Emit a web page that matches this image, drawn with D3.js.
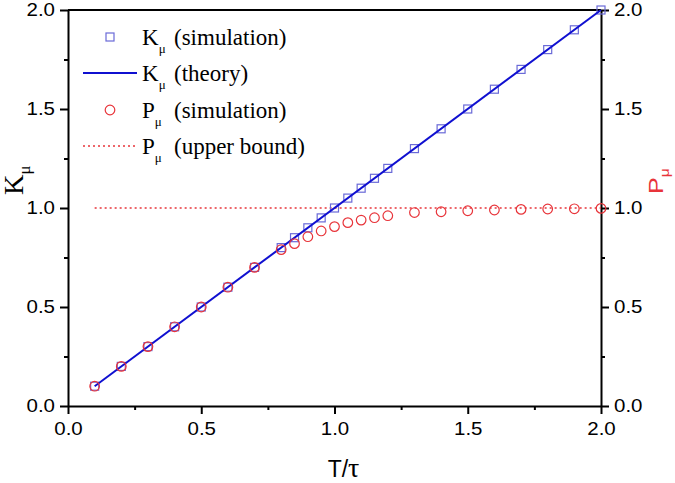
<!DOCTYPE html>
<html><head><meta charset="utf-8">
<script src="https://cdn.jsdelivr.net/npm/d3@7/dist/d3.min.js"></script>
<style>body{margin:0;background:#fff}svg{display:block}</style>
</head><body><svg id="c" width="675" height="483"></svg>
<script>
const kSimT = [0.1,0.2,0.3,0.4,0.5,0.6,0.7,0.8,0.85,0.9,0.95,1.0,1.05,1.1,1.15,1.2,1.3,1.4,1.5,1.6,1.7,1.8,1.9,2.0];
const kSimV = [0.1,0.2,0.3,0.4,0.5,0.6,0.7,0.8,0.85,0.9,0.95,1.0,1.05,1.1,1.15,1.2,1.3,1.4,1.5,1.6,1.7,1.8,1.9,2.0];
const kTheoryT = [0.1,2.0];
const kTheoryV = [0.1,2.0];
const pSimT = [0.1,0.2,0.3,0.4,0.5,0.6,0.7,0.8,0.85,0.9,0.95,1.0,1.05,1.1,1.15,1.2,1.3,1.4,1.5,1.6,1.7,1.8,1.9,2.0];
const pSimV = [0.1,0.2,0.3,0.4,0.5,0.6,0.7,0.79,0.82,0.855,0.884,0.906,0.926,0.939,0.951,0.961,0.977,0.981,0.986,0.99,0.993,0.995,0.996,0.998];
const pBoundT = [0.1,2.0];
const pBoundV = [1.0,1.0];
const xTicks = [0,0.5,1.0,1.5,2.0];
const yTicks = [0,0.5,1.0,1.5,2.0];
const minorTicks = [0.25,0.75,1.25,1.75];

const svg = d3.select("#c");
const L=68,R=601,T=10,B=406;
const x = d3.scaleLinear().domain([0,2]).range([L,R]);
const yL = d3.scaleLinear().domain([0,2]).range([B,T]);
const yR = d3.scaleLinear().domain([0,2]).range([B,T]);
const fmt = d3.format(".1f");
const tickFont = "Liberation Sans, Arial, sans-serif";
const serif = "Liberation Serif, Times New Roman, serif";

function stretch(sel, f){
  sel.each(function(){
    const w = this.getComputedTextLength();
    d3.select(this).attr("textLength", w*f).attr("lengthAdjust","spacingAndGlyphs");
  });
}
function styleAxis(g){
  g.selectAll("path").attr("stroke","#000").attr("stroke-width",2);
  g.selectAll("line").attr("stroke","#000").attr("stroke-width",2);
  g.selectAll("text").attr("font-family",tickFont).attr("font-size",17.5).attr("fill","#000");
  stretch(g.selectAll("text"), 1.17);
}
// minor ticks
svg.append("g").attr("transform",`translate(0,${B})`).call(d3.axisBottom(x).tickValues(minorTicks).tickSize(4).tickFormat("")).call(styleAxis).select("path").remove();
svg.append("g").attr("transform",`translate(${L},0)`).call(d3.axisLeft(yL).tickValues(minorTicks).tickSize(4).tickFormat("")).call(styleAxis).select("path").remove();
svg.append("g").attr("transform",`translate(${R},0)`).call(d3.axisRight(yR).tickValues(minorTicks).tickSize(4).tickFormat("")).call(styleAxis).select("path").remove();
// top line
svg.append("line").attr("x1",L).attr("x2",R).attr("y1",T).attr("y2",T).attr("stroke","#000").attr("stroke-width",2);
// major
svg.append("g").attr("transform",`translate(0,${B})`).call(d3.axisBottom(x).tickValues(xTicks).tickSize(8).tickSizeOuter(0).tickPadding(9).tickFormat(fmt)).call(styleAxis);
svg.append("g").attr("transform",`translate(${L},0)`).call(d3.axisLeft(yL).tickValues(yTicks).tickSize(8).tickSizeOuter(0).tickPadding(5).tickFormat(fmt)).call(styleAxis);
svg.append("g").attr("transform",`translate(${R},0)`).call(d3.axisRight(yR).tickValues(yTicks).tickSize(8).tickSizeOuter(0).tickPadding(5).tickFormat(fmt)).call(styleAxis);

const sqCol = "#6a6ad8", lineCol = "#1010d0", red = "#e8343a";
// dotted bound
svg.append("path").datum(pBoundT.map((t,i)=>[t,pBoundV[i]]))
  .attr("d",d3.line().x(d=>x(d[0])).y(d=>yR(d[1])))
  .attr("fill","none").attr("stroke",red).attr("stroke-width",1.5).attr("stroke-dasharray","2,3");
// squares
svg.append("g").selectAll("rect").data(kSimT.map((t,i)=>[t,kSimV[i]])).join("rect")
  .attr("x",d=>x(d[0])-4).attr("y",d=>yL(d[1])-4).attr("width",8).attr("height",8)
  .attr("fill","none").attr("stroke",sqCol).attr("stroke-width",1.2);
// theory line
svg.append("path").datum(kTheoryT.map((t,i)=>[t,kTheoryV[i]]))
  .attr("d",d3.line().x(d=>x(d[0])).y(d=>yL(d[1])))
  .attr("fill","none").attr("stroke",lineCol).attr("stroke-width",2);
// circles
svg.append("g").selectAll("circle").data(pSimT.map((t,i)=>[t,pSimV[i]])).join("circle")
  .attr("cx",d=>x(d[0])).attr("cy",d=>yR(d[1])).attr("r",4.8)
  .attr("fill","none").attr("stroke",red).attr("stroke-width",1.2);

// legend
const leg = svg.append("g");
const rows = [
  {y:37, sym:"sq", main:"K", rest:"(simulation)"},
  {y:73, sym:"line", main:"K", rest:"(theory)"},
  {y:110, sym:"circ", main:"P", rest:"(simulation)"},
  {y:146, sym:"dot", main:"P", rest:"(upper bound)"}
];
rows.forEach(r=>{
  if(r.sym==="sq") leg.append("rect").attr("x",106).attr("y",r.y-4).attr("width",8).attr("height",8).attr("fill","none").attr("stroke",sqCol).attr("stroke-width",1.2);
  if(r.sym==="line") leg.append("line").attr("x1",83).attr("x2",137).attr("y1",r.y).attr("y2",r.y).attr("stroke",lineCol).attr("stroke-width",2);
  if(r.sym==="circ") leg.append("circle").attr("cx",110).attr("cy",r.y).attr("r",4.8).attr("fill","none").attr("stroke",red).attr("stroke-width",1.2);
  if(r.sym==="dot") leg.append("line").attr("x1",83).attr("x2",137).attr("y1",r.y).attr("y2",r.y).attr("stroke",red).attr("stroke-width",1.5).attr("stroke-dasharray","2,3");
  const t = leg.append("text").attr("x",142).attr("y",r.y+8).attr("font-family",serif).attr("font-size",23).attr("fill","#000");
  t.append("tspan").text(r.main);
  t.append("tspan").attr("font-size",13).attr("dy",8).text("μ");
  t.append("tspan").attr("dy",-8).attr("x",174).text(r.rest);
});

// axis titles
const yl = svg.append("text").attr("transform","translate(23,195) rotate(-90) scale(1.05,1)").attr("font-family",serif).attr("font-size",27).attr("fill","#000");
yl.append("tspan").text("K"); yl.append("tspan").attr("font-size",16).attr("dy",7).text("μ");
const yr = svg.append("text").attr("transform","translate(663,194) rotate(-90) scale(1.2,1)").attr("font-family",tickFont).attr("font-size",21).attr("fill",red);
yr.append("tspan").text("P"); yr.append("tspan").attr("font-size",13).attr("dy",6).text("μ");
const xl = svg.append("text").attr("x",343.5).attr("y",477).attr("text-anchor","middle").attr("font-family",tickFont).attr("font-size",23).attr("fill","#000");
xl.append("tspan").text("T/");
xl.append("tspan").attr("font-family",serif).attr("font-size",28).text("τ");
</script></body></html>
